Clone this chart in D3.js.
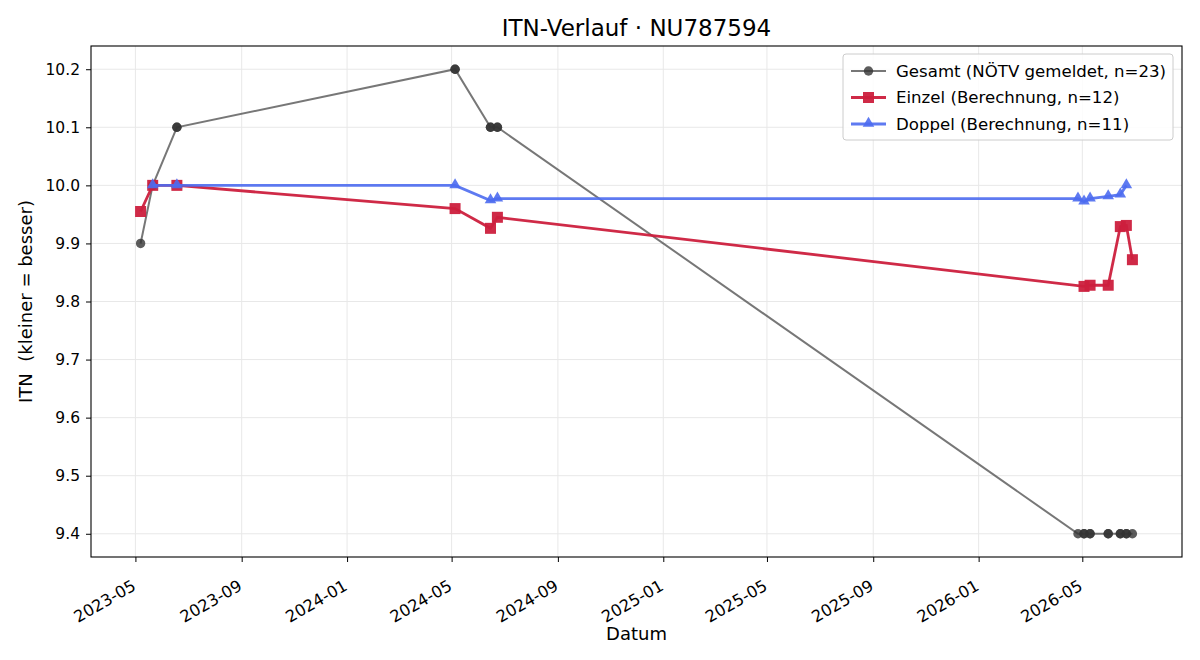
<!DOCTYPE html>
<html>
<head>
<meta charset="utf-8">
<script src="https://cdn.jsdelivr.net/npm/d3@7"></script>
<style>
  body { margin: 0; background: #fff; }
  svg, svg text { font-family: "DejaVu Sans", sans-serif; }
</style>
</head>
<body>
<div id="chart"></div>
<script>
// Gesamt: all matches (NÖTV reported)
const gesamtDates = ["2023-05-07", "2023-05-21", "2023-05-21", "2023-06-18", "2023-06-18",
  "2024-05-05", "2024-05-05", "2024-06-15", "2024-06-15", "2024-06-23", "2024-06-23",
  "2026-04-26", "2026-05-03", "2026-05-03", "2026-05-10", "2026-05-10", "2026-05-31", "2026-05-31",
  "2026-06-14", "2026-06-14", "2026-06-21", "2026-06-21", "2026-06-28"];
const gesamtValues = [9.9, 10.0, 10.0, 10.1, 10.1,
  10.2, 10.2, 10.1, 10.1, 10.1, 10.1,
  9.4, 9.4, 9.4, 9.4, 9.4, 9.4, 9.4,
  9.4, 9.4, 9.4, 9.4, 9.4];

const einzelDates = ["2023-05-07", "2023-05-21", "2023-06-18", "2024-05-05", "2024-06-15", "2024-06-23",
  "2026-05-03", "2026-05-10", "2026-05-31", "2026-06-14", "2026-06-21", "2026-06-28"];
const einzelValues = [9.955, 10.0, 10.0, 9.96, 9.926, 9.945, 9.826, 9.828, 9.828, 9.929, 9.931, 9.872];

const doppelDates = ["2023-05-21", "2023-06-18", "2024-05-05", "2024-06-15", "2024-06-23",
  "2026-04-26", "2026-05-03", "2026-05-10", "2026-05-31", "2026-06-14", "2026-06-21"];
const doppelValues = [10.0, 10.0, 10.0, 9.974, 9.977, 9.977, 9.972, 9.977, 9.981, 9.984, 10.0];

const yTicks = [9.4, 9.5, 9.6, 9.7, 9.8, 9.9, 10.0, 10.1, 10.2];
const xTicks = ["2023-05-01", "2023-09-01", "2024-01-01", "2024-05-01", "2024-09-01",
  "2025-01-01", "2025-05-01", "2025-09-01", "2026-01-01", "2026-05-01"];

const parse = d3.utcParse("%Y-%m-%d");
const zip = (ds, vs) => ds.map((d, i) => ({ date: parse(d), value: vs[i] }));
const gesamt = zip(gesamtDates, gesamtValues);
const einzel = zip(einzelDates, einzelValues);
const doppel = zip(doppelDates, doppelValues);

const W = 1200, H = 660;
const margin = { top: 46, right: 18, bottom: 103, left: 91 };
const width = W - margin.left - margin.right;
const height = H - margin.top - margin.bottom;

// matplotlib-style 5% padding
const allDates = gesamt.map(d => +d.date);
const dMin = d3.min(allDates), dMax = d3.max(allDates);
const dPad = (dMax - dMin) * 0.05;
const x = d3.scaleUtc([new Date(dMin - dPad), new Date(dMax + dPad)], [0, width]);
const allVals = gesamt.concat(einzel, doppel).map(d => d.value);
const vMin = d3.min(allVals), vMax = d3.max(allVals);
const vPad = (vMax - vMin) * 0.05;
const y = d3.scaleLinear([vMin - vPad, vMax + vPad], [height, 0]);

const svg = d3.select("#chart").append("svg")
  .attr("width", W).attr("height", H);
const g = svg.append("g").attr("transform", `translate(${margin.left},${margin.top})`);

// grid
g.append("g").selectAll("line").data(xTicks.map(parse)).join("line")
  .attr("x1", d => x(d)).attr("x2", d => x(d)).attr("y1", 0).attr("y2", height)
  .attr("stroke", "#e8e8e8").attr("stroke-width", 1);
g.append("g").selectAll("line").data(yTicks).join("line")
  .attr("y1", d => y(d)).attr("y2", d => y(d)).attr("x1", 0).attr("x2", width)
  .attr("stroke", "#e8e8e8").attr("stroke-width", 1);

const line = d3.line().x(d => x(d.date)).y(d => y(d.value));

// Gesamt
g.append("path").datum(gesamt).attr("d", line)
  .attr("fill", "none").attr("stroke", "#555").attr("stroke-opacity", 0.8).attr("stroke-width", 2);
g.append("g").selectAll("circle").data(gesamt).join("circle")
  .attr("cx", d => x(d.date)).attr("cy", d => y(d.value)).attr("r", 4.7)
  .attr("fill", "#333").attr("fill-opacity", 0.8);

// Einzel
const red = "#cc1f3d";
g.append("path").datum(einzel).attr("d", line)
  .attr("fill", "none").attr("stroke", red).attr("stroke-opacity", 0.95).attr("stroke-width", 2.8);
g.append("g").selectAll("rect").data(einzel).join("rect")
  .attr("x", d => x(d.date) - 5.5).attr("y", d => y(d.value) - 5.5)
  .attr("width", 11).attr("height", 11)
  .attr("fill", red).attr("fill-opacity", 0.95);

// Doppel
const blue = "#4d6bf0";
const tri = d3.symbol(d3.symbolTriangle, 58);
g.append("path").datum(doppel).attr("d", line)
  .attr("fill", "none").attr("stroke", blue).attr("stroke-opacity", 0.9).attr("stroke-width", 2.8);
g.append("g").selectAll("path").data(doppel).join("path")
  .attr("d", tri)
  .attr("transform", d => `translate(${x(d.date)},${y(d.value) - 0.5})`)
  .attr("fill", blue).attr("fill-opacity", 0.9);

// axes
const fmt = d3.utcFormat("%Y-%m");
const xAxis = g.append("g").attr("transform", `translate(0,${height})`)
  .attr("font-family", "DejaVu Sans")
  .call(d3.axisBottom(x).tickValues(xTicks.map(parse)).tickFormat(fmt).tickSize(5).tickPadding(5));
xAxis.select(".domain").remove();
xAxis.selectAll("line").attr("stroke", "#000").attr("stroke-width", 1);
xAxis.selectAll("text")
  .attr("font-size", 16.3).attr("fill", "#000")
  .attr("text-anchor", "end")
  .attr("dy", null).attr("y", 0)
  .attr("transform", "translate(1,32) rotate(-30)");

const yAxis = g.append("g")
  .attr("font-family", "DejaVu Sans")
  .call(d3.axisLeft(y).tickValues(yTicks).tickFormat(d3.format(".1f")).tickSize(5).tickPadding(6));
yAxis.select(".domain").remove();
yAxis.selectAll("line").attr("stroke", "#000").attr("stroke-width", 1);
yAxis.selectAll("text").attr("font-size", 15.5).attr("fill", "#000");

g.append("rect").attr("width", width).attr("height", height)
  .attr("fill", "none").attr("stroke", "#000").attr("stroke-width", 1.1);

// labels
svg.append("text").attr("x", margin.left + width / 2).attr("y", 36)
  .attr("text-anchor", "middle").attr("font-size", 23).text("ITN-Verlauf · NU787594");
svg.append("text").attr("x", margin.left + width / 2).attr("y", 640)
  .attr("text-anchor", "middle").attr("font-size", 18).text("Datum");
svg.append("text")
  .attr("transform", `translate(32,${margin.top + height / 2}) rotate(-90)`)
  .attr("text-anchor", "middle").attr("font-size", 18).attr("xml:space", "preserve")
  .text("ITN  (kleiner = besser)");

// legend
const legend = svg.append("g").attr("transform", "translate(843,54)");
legend.append("rect").attr("width", 330).attr("height", 86).attr("rx", 3)
  .attr("fill", "#fff").attr("fill-opacity", 0.85).attr("stroke", "#ccc");
const items = [
  { label: "Gesamt (NÖTV gemeldet, n=23)", color: "#555", op: 0.8, w: 2, shape: "circle" },
  { label: "Einzel (Berechnung, n=12)", color: red, op: 0.95, w: 2.8, shape: "square" },
  { label: "Doppel (Berechnung, n=11)", color: blue, op: 0.9, w: 2.8, shape: "triangle" }
];
items.forEach((it, i) => {
  const row = legend.append("g").attr("transform", `translate(0,${17 + i * 26.5})`);
  row.append("line").attr("x1", 8).attr("x2", 43)
    .attr("stroke", it.color).attr("stroke-opacity", it.op).attr("stroke-width", it.w);
  if (it.shape === "circle") {
    row.append("circle").attr("cx", 25.5).attr("r", 4.7).attr("fill", "#333").attr("fill-opacity", 0.8);
  } else if (it.shape === "square") {
    row.append("rect").attr("x", 20).attr("y", -5.5).attr("width", 11).attr("height", 11)
      .attr("fill", it.color).attr("fill-opacity", it.op);
  } else {
    row.append("path").attr("d", tri).attr("transform", "translate(25.5,-0.5)")
      .attr("fill", it.color).attr("fill-opacity", it.op);
  }
  row.append("text").attr("x", 53).attr("y", 0).attr("dy", "0.35em")
    .attr("font-size", 16.6).text(it.label);
});
</script>
</body>
</html>
